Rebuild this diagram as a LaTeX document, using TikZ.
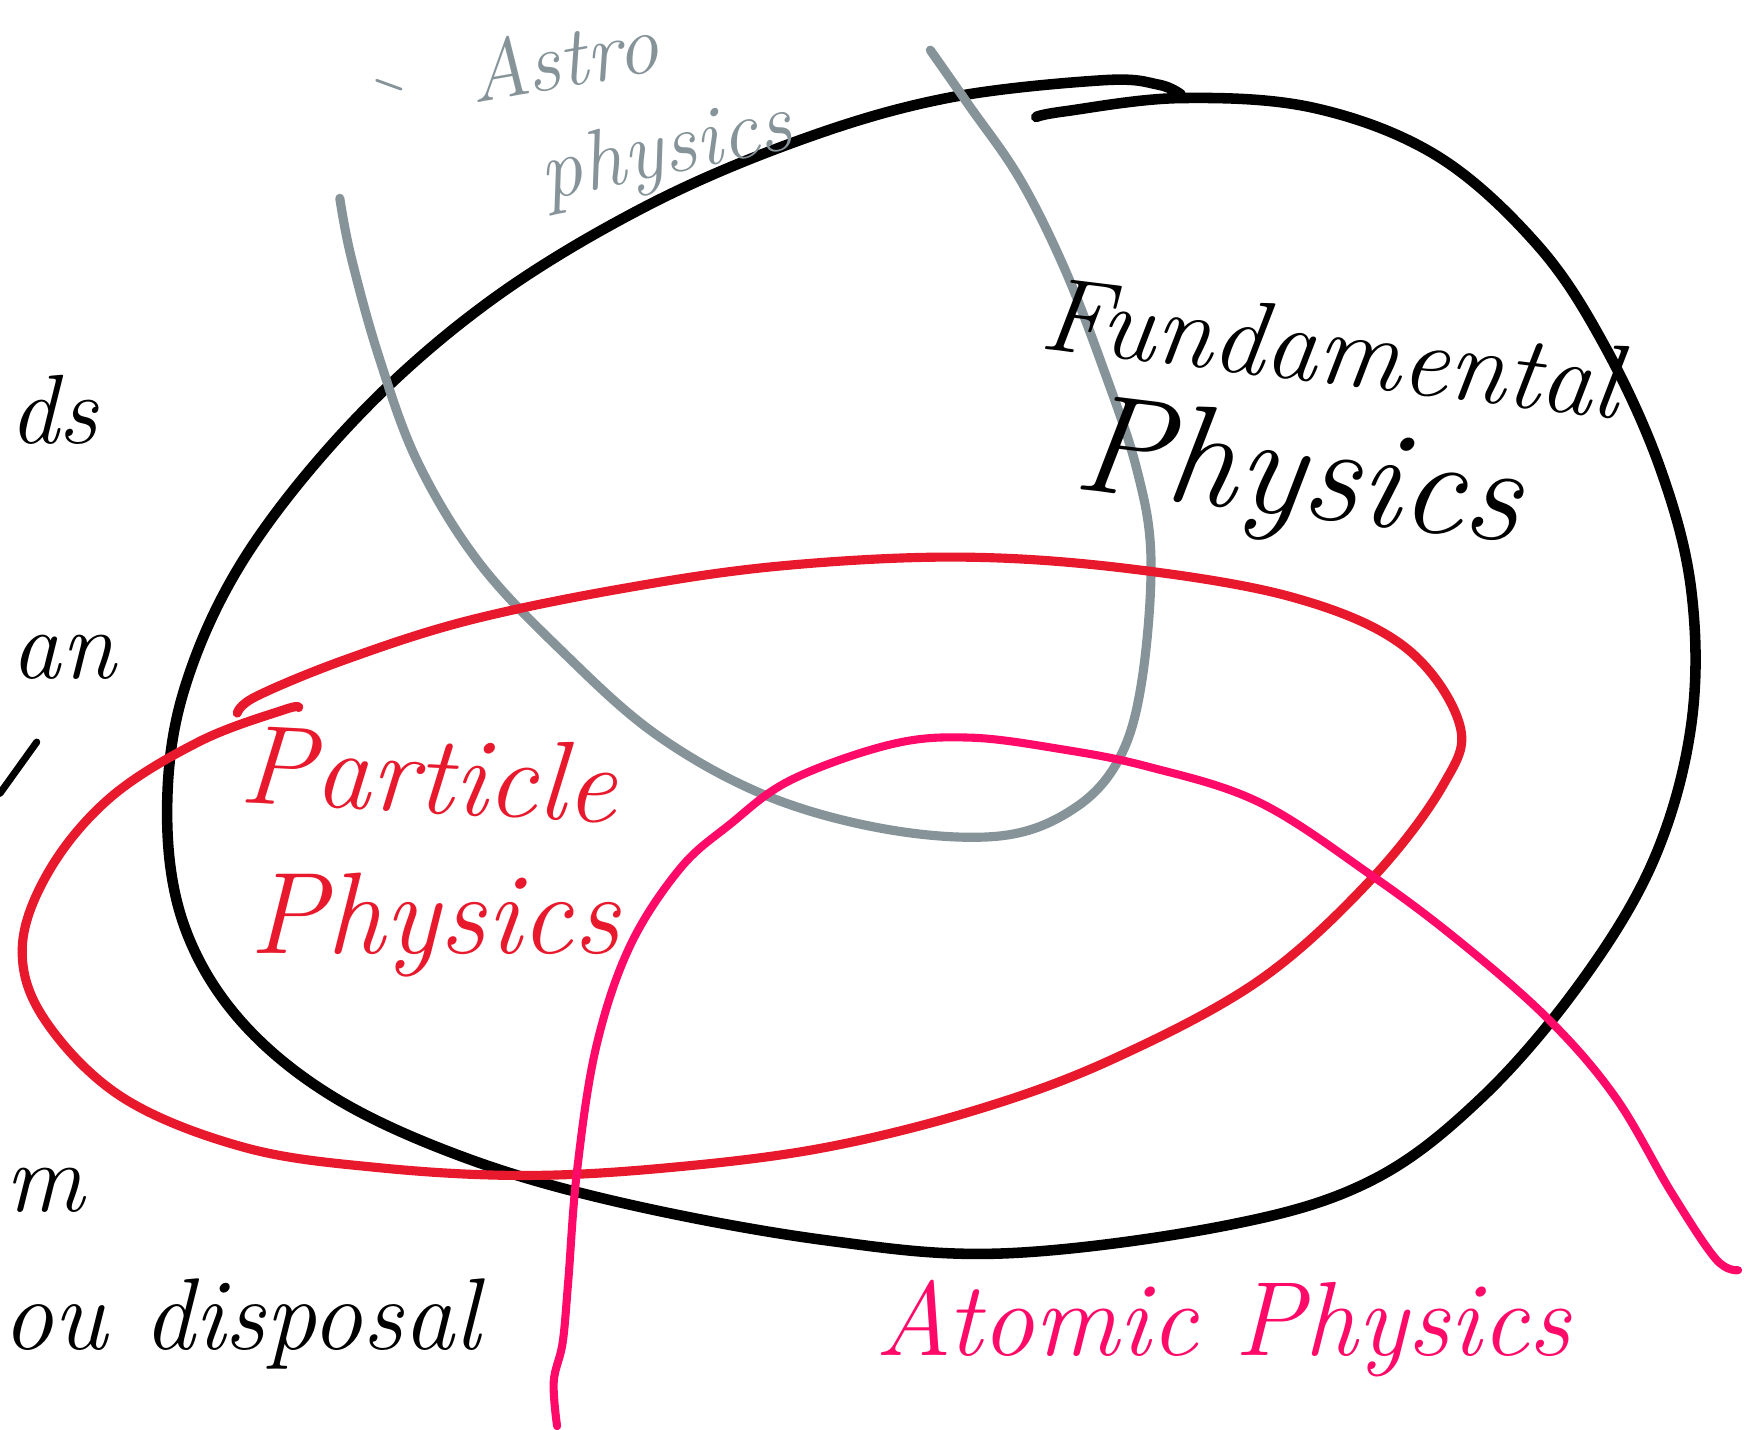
\documentclass[tikz,border=0pt]{standalone}
\usepackage{xcolor}
\usepackage{tikz}
\usetikzlibrary{positioning}

\definecolor{inkblack}{HTML}{000000}
\definecolor{inkred}{HTML}{E8192C}
\definecolor{inkpink}{HTML}{FF0A68}
\definecolor{inkgray}{HTML}{869499}

\begin{document}
\begin{tikzpicture}[x=0.011142cm,y=-0.011142cm,
    pen/.style={line width=#1, line cap=round, line join=round},
    hand/.style={font=\itshape, inner sep=0pt},
    blackline/.style={pen=3pt, inkblack},
    redline/.style={pen=2.6pt, inkred},
    grayline/.style={pen=2.6pt, inkgray},
    pinkline/.style={pen=2.3pt, inkpink}]
    \useasboundingbox (0,0) rectangle (1568,1283);

    % fundamental physics loop
    \draw[blackline] plot[smooth, tension=0.6] coordinates {
      (930,105) (955,100) (1060,88) (1180,97) (1290,140) (1380,220)
      (1440,310) (1490,420) (1518,530) (1518,650) (1485,770) (1420,880)
      (1330,985) (1230,1060) (1100,1100) (900,1125) (740,1113) (560,1080)
      (420,1040) (300,985) (215,915) (165,830) (150,730) (165,620)
      (220,500) (320,375) (440,270) (580,185) (720,125) (850,88)
      (990,72) (1040,76) (1060,85)};

    % astrophysics line
    \draw[grayline] plot[smooth, tension=0.6] coordinates {
      (835,45) (870,95) (915,160) (955,240) (990,330) (1020,420)
      (1033,500) (1025,610) (1005,680) (965,725) (900,750) (800,745)
      (690,715) (590,660) (505,585) (430,505) (375,415) (340,320)
      (315,230) (305,178)};
    \draw[inkgray, pen=0.8pt] (338,72) -- (360,80);

    % particle physics loop
    \draw[redline] plot[smooth, tension=0.6] coordinates {
      (213,640) (230,625) (310,592) (420,557) (560,528) (700,508)
      (860,500) (1010,510) (1160,536) (1260,580) (1310,650) (1295,705)
      (1230,790) (1130,880) (1000,950) (880,995) (740,1030) (600,1048)
      (470,1055) (340,1048) (220,1030) (110,985) (40,915) (20,850)
      (45,780) (100,715) (180,665) (255,637) (268,635)};

    % atomic physics line
    \draw[pinkline] plot[smooth, tension=0.6] coordinates {
      (500,1280) (497,1240) (505,1205) (510,1150) (518,1050) (535,940)
      (565,850) (610,780) (655,740) (710,700) (800,668) (870,662)
      (950,672) (1030,688) (1130,720) (1230,785) (1310,845) (1390,915)
      (1450,985) (1500,1070) (1540,1130) (1560,1140)};

    % labels
    \node[hand, inkblack, rotate=-7, font=\itshape\fontsize{30}{32}\selectfont] (fundamental) at (1195,312) {Fundamental};
    \node[hand, inkblack, rotate=-7, font=\itshape\fontsize{40}{42}\selectfont] (fundphysics) at (1165,432) {Physics};
    \node[hand, inkred, rotate=-3, font=\itshape\fontsize{32}{34}\selectfont] (particle) at (385,695) {Particle};
    \node[hand, inkred, font=\itshape\fontsize{33}{35}\selectfont] (partphysics) at (390,830) {Physics};
    \node[hand, inkgray, rotate=10, font=\itshape\fontsize{24}{26}\selectfont] (astro) at (505,52) {Astro};
    \node[hand, inkgray, rotate=12, font=\itshape\fontsize{24}{26}\selectfont] (astrophysics) at (598,138) {physics};
    \node[hand, inkpink, font=\itshape\fontsize{30}{32}\selectfont] (atomic) at (1098,1192) {Atomic Physics};

    % cut-off words on the left
    \node[hand, inkblack, anchor=west, font=\itshape\fontsize{28}{30}\selectfont] (leftds) at (8,368) {ds};
    \node[hand, inkblack, anchor=west, font=\itshape\fontsize{28}{30}\selectfont] (leftan) at (10,590) {an};
    \draw[blackline, pen=2pt] (0,712) -- (33,666);
    \node[hand, inkblack, anchor=west, font=\itshape\fontsize{28}{30}\selectfont] (leftm) at (4,1068) {m};
    \node[hand, inkblack, anchor=west, font=\itshape\fontsize{29}{31}\selectfont] (disposal) at (2,1188) {ou disposal};
\end{tikzpicture}
\end{document}
